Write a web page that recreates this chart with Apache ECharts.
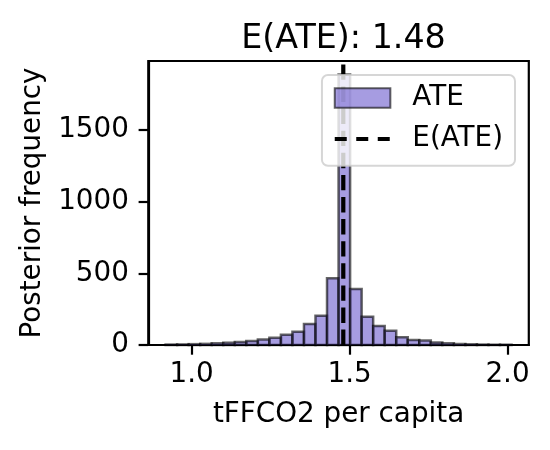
<!DOCTYPE html>
<html>
<head>
<meta charset="utf-8">
<script src="https://cdn.jsdelivr.net/npm/echarts@6/dist/echarts.min.js"></script>
<style>html,body{margin:0;padding:0;background:#fff}#c{width:550px;height:450px}</style>
</head>
<body>
<div id="c"></div>
<script>
// Histogram bin edges (31) and counts (30)
const binEdges = [0.9174, 0.9539, 0.9904, 1.0269, 1.0634, 1.1000, 1.1365, 1.1730, 1.2095, 1.2460,
  1.2825, 1.3190, 1.3555, 1.3920, 1.4285, 1.4651, 1.5016, 1.5381, 1.5746, 1.6111,
  1.6476, 1.6841, 1.7206, 1.7571, 1.7936, 1.8302, 1.8667, 1.9032, 1.9397, 1.9762, 2.0127];
const counts = [3, 4, 6, 8, 12, 16, 21, 28, 38, 50,
  72, 93, 147, 205, 465, 1888, 391, 198, 133, 100,
  54, 35, 31, 18, 12, 7, 5, 3, 2, 2];
const meanATE = 1.48;
const xTicks = [1.0, 1.5, 2.0];
const yTicks = [0, 500, 1000, 1500];
const titleText = 'E(ATE): 1.48';
const xName = 'tFFCO2 per capita';
const yName = 'Posterior frequency';
const seriesNames = ['ATE', 'E(ATE)'];

const xMin = 0.8626, xMax = 2.0674, yMax = 1982;

const histData = counts.map((c, i) => [binEdges[i], binEdges[i + 1], c]);

const FONT = 'DejaVu Sans';
const FS = 27.8;
const chart = echarts.init(document.getElementById('c'), null, {renderer: 'canvas'});
chart.setOption({
  animation: false,
  backgroundColor: '#fff',
  textStyle: {fontFamily: FONT, color: '#000'},
  title: {
    text: titleText,
    left: 338.5, top: 18, textAlign: 'center',
    textStyle: {fontFamily: FONT, fontSize: 33.3, fontWeight: 'normal', color: '#000', lineHeight: 33.3}
  },
  grid: {
    left: 148.3, right: 21.2, top: 61, bottom: 105,
    show: true, borderColor: '#000', borderWidth: 2.2, backgroundColor: 'transparent'
  },
  legend: {
    orient: 'vertical', right: 35, top: 75,
    selectedMode: false,
    itemWidth: 55.6, itemHeight: 19.5, itemGap: 13,
    padding: [9, 12, 12.7, 10.7],
    backgroundColor: 'rgba(255,255,255,0.8)',
    borderColor: 'rgba(204,204,204,0.8)', borderWidth: 2, borderRadius: 6,
    textStyle: {fontFamily: FONT, fontSize: FS, color: '#000', lineHeight: 28, padding: [0, 0, 0, 17]},
    data: [
      {name: seriesNames[0], icon: 'rect'},
      {name: seriesNames[1], itemStyle: {opacity: 0},
       lineStyle: {color: '#000', width: 4.2, type: [12, 9.5], opacity: 1}}
    ]
  },
  xAxis: {
    type: 'value', min: xMin, max: xMax,
    name: xName, nameLocation: 'middle', nameGap: 56,
    nameTextStyle: {fontFamily: FONT, fontSize: FS, color: '#000', lineHeight: 28},
    axisLine: {show: true, onZero: false, lineStyle: {color: '#000', width: 2.2}},
    axisTick: {show: true, length: 9.7, lineStyle: {color: '#000', width: 2.2}, customValues: xTicks},
    axisLabel: {show: true, margin: 16, fontFamily: FONT, fontSize: FS, color: '#000', lineHeight: 28,
      customValues: xTicks, formatter: v => v.toFixed(1)},
    splitLine: {show: false}
  },
  yAxis: {
    type: 'value', min: 0, max: yMax,
    name: yName, nameLocation: 'middle', nameGap: 102, nameRotate: 90,
    nameTextStyle: {fontFamily: FONT, fontSize: FS, color: '#000', lineHeight: 28},
    axisLine: {show: true, lineStyle: {color: '#000', width: 2.2}},
    axisTick: {show: true, length: 9.7, lineStyle: {color: '#000', width: 2.2}, customValues: yTicks},
    axisLabel: {show: true, margin: 19.4, fontFamily: FONT, fontSize: FS, color: '#000',
      customValues: yTicks, formatter: v => String(v)},
    splitLine: {show: false}
  },
  series: [
    {
      name: seriesNames[0],
      type: 'custom',
      itemStyle: {color: 'rgba(106,90,205,0.6)', borderColor: 'rgba(0,0,0,0.6)', borderWidth: 2.5},
      encode: {x: [0, 1], y: 2},
      data: histData,
      renderItem: function (params, api) {
        const p0 = api.coord([api.value(0), api.value(2)]);
        const p1 = api.coord([api.value(1), 0]);
        return {
          type: 'rect',
          shape: {x: p0[0], y: p0[1], width: p1[0] - p0[0], height: p1[1] - p0[1]},
          style: {fill: 'rgba(106,90,205,0.6)', stroke: 'rgba(0,0,0,0.6)', lineWidth: 2.5}
        };
      },
      z: 2
    },
    {
      name: seriesNames[1],
      type: 'line',
      data: [[meanATE, 0], [meanATE, yMax]],
      symbol: 'none', showSymbol: false,
      lineStyle: {color: '#000', width: 4.2, type: [15.4, 6.7]},
      itemStyle: {color: '#000'},
      z: 3
    }
  ]
});
</script>
</body>
</html>
